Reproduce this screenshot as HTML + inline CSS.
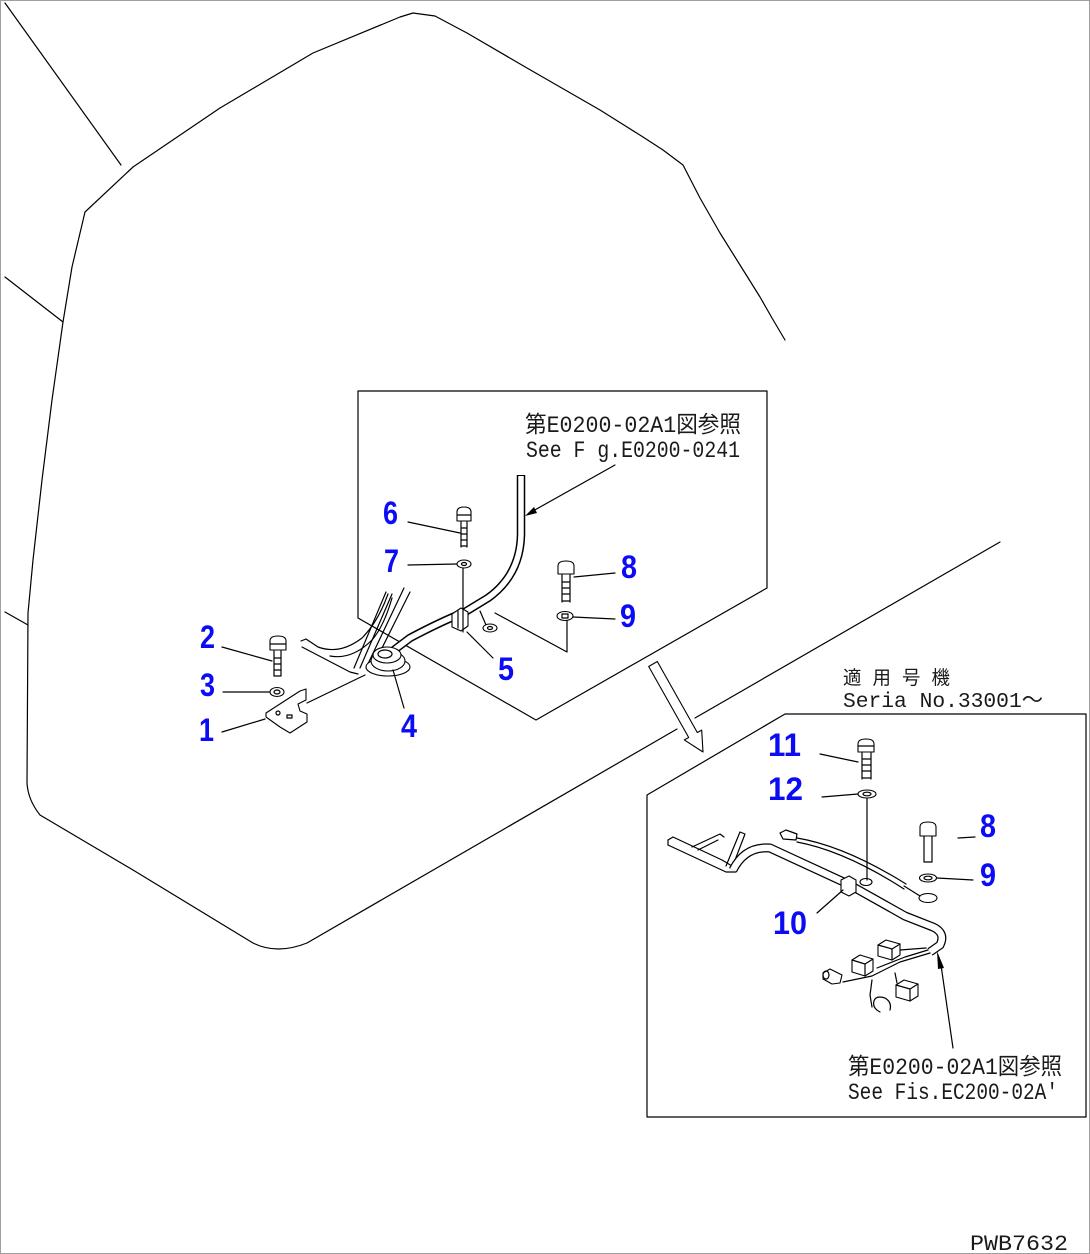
<!DOCTYPE html>
<html><head><meta charset="utf-8"><style>
html,body{margin:0;padding:0;background:#fff;}
svg{display:block;}
.l{fill:none;stroke:#000;stroke-width:1.2;stroke-linejoin:round;stroke-linecap:round;}
.w{fill:#fff;stroke:#000;stroke-width:1.1;stroke-linejoin:round;}
.t{font-family:"Liberation Mono","Noto Sans CJK JP",monospace;fill:#1a1a1a;}
.n{font-family:"Liberation Sans",sans-serif;font-weight:bold;font-size:32px;fill:#0b0bf5;}
</style></head><body>
<svg width="1090" height="1254" viewBox="0 0 1090 1254" xmlns="http://www.w3.org/2000/svg">
<rect x="0.5" y="0.5" width="1089" height="1253" fill="#fff" stroke="#a0a0a0" stroke-width="1"/>

<!-- big outline -->
<path class="l" d="M785 340 L772 318 L760 297 L740 265 L720 233 L700 198 L683 165 L663 150 L643 137 L600 110 L527 68 L467 33 L435 16 L413 13 L400 17 L313 53 L220 108 L133 167 L85 212 L72 267 L63 322 L52 400 L42 480 L33 560 L28 613 L27 783 Q28 800 40 815 L133 870 L253 943 Q277 955 307 943 L677 729"/>
<path class="l" d="M695 718 L1000 542"/>
<path class="l" d="M5 3 L121 165"/>
<path class="l" d="M5 277 L63 322"/>
<path class="l" d="M5 612 L28 625"/>

<!-- upper detail box -->
<path class="l" d="M358 618 L358 391 L767 391 L767 588 L536 720 L358 618"/>

<!-- hollow arrow -->
<polygon class="w" points="648.7,666.5 657.3,661.5 697.3,732.5 701.7,730.1 703,752 684.3,739.9 688.7,737.5"/>

<!-- lower detail box -->
<path class="l" d="M647 1117 L647 795 L785 714 L1086 714 L1086 1117 Z"/>

<!-- upper texts -->
<text class="t" x="525" y="432" font-size="23" textLength="216" lengthAdjust="spacingAndGlyphs">第E0200-02A1図参照</text>
<text class="t" x="526" y="457" font-size="23" textLength="214" lengthAdjust="spacingAndGlyphs">See F g.E0200-0241</text>

<!-- leader arrow upper -->
<path class="l" d="M615 465 L533 511"/>
<polygon points="525,516 537,513 534,507" fill="#000"/>

<!-- cable upper -->
<path d="M521 475 L521 535 Q520 575 488 598 L465 612 Q440 622 410 638 L394 650" fill="none" stroke="#000" stroke-width="8.5"/>
<path d="M521 476 L521 535 Q520 575 488 598 L465 612 Q440 622 410 638 L394 650" fill="none" stroke="#fff" stroke-width="5.5"/>

<!-- bracket upper -->
<path class="l" d="M301 641 L306 639 L318 647 Q340 655 362 638 Q378 622 388 594"/>
<path class="l" d="M302 647 L350 672 L358 674"/>
<path class="l" d="M330 656 Q352 660 372 640 Q384 626 392 598"/>
<path class="l" d="M386 592 L354 668"/>
<path class="l" d="M392 594 L360 668"/>
<path class="l" d="M404 588 L366 668"/>
<path class="l" d="M410 592 L372 668"/>

<!-- grommet 4 -->
<ellipse class="w" cx="388" cy="667" rx="22" ry="9"/>
<ellipse class="w" cx="388" cy="661" rx="17" ry="10"/>
<ellipse class="w" cx="387" cy="655" rx="14" ry="8"/>
<ellipse class="l" cx="385" cy="654" rx="7" ry="4"/>

<!-- plate to grommet line -->
<path class="l" d="M307 703 L365 675"/>

<!-- clamp 5 -->
<path class="w" d="M452 614 L461 608 L468 612 L468 626 L461 631 L452 627 Z"/>
<path class="l" d="M458 611 L458 628"/>
<path class="l" d="M480 611 L486 625"/>
<ellipse class="w" cx="490" cy="628" rx="7" ry="4"/>
<ellipse class="l" cx="490" cy="628" rx="2.5" ry="1.5"/>
<path class="l" d="M495 613 L567 652 L567 620"/>
<path class="l" d="M463 568 L463 632"/>
<path class="l" d="M467 632 L493 658"/>

<!-- bolt 6 -->
<path class="w" d="M457 521 L457 512 Q457 507 464 507 Q471 507 471 512 L471 521 Z"/>
<path class="l" d="M457 515 L471 515"/>
<path class="l" d="M461 522 L461 547 M467 522 L467 547 M461 528 L467 528 M461 534 L467 534 M461 540 L467 540 M461 546 L467 546"/>
<!-- washer 7 -->
<ellipse class="w" cx="464" cy="564" rx="7" ry="4"/>
<ellipse class="l" cx="464" cy="564" rx="2.5" ry="1.5"/>

<!-- bolt 8 upper -->
<path class="w" d="M558 574 L558 566 Q558 561 566 561 Q574 561 574 566 L574 574 Z"/>
<path class="l" d="M562 575 L562 602 M570 575 L570 602 M562 582 L570 582 M562 588 L570 588 M562 594 L570 594 M562 601 L570 601"/>
<!-- washer 9 upper -->
<ellipse class="w" cx="565" cy="616" rx="8" ry="4.5"/>
<rect class="l" x="562" y="614" width="6" height="4"/>

<!-- bolt 2 -->
<path class="w" d="M270 650 L270 641 Q270 636 278 636 Q286 636 286 641 L286 650 Z"/>
<path class="l" d="M270 644 L286 644"/>
<path class="l" d="M274 651 L274 676 M281 651 L281 676 M274 658 L281 658 M274 664 L281 664 M274 670 L281 670 M274 676 L281 676"/>
<!-- washer 3 -->
<ellipse class="w" cx="277" cy="692" rx="7" ry="4.5"/>
<ellipse class="l" cx="277" cy="692" rx="3" ry="2"/>
<!-- plate 1 -->
<path class="w" d="M266 713 L300 691 L306 689 L306 700 L298 704 L300 711 L307 714 L307 722 L290 733 L280 727 L266 717 Z"/>
<circle class="l" cx="278" cy="713" r="2"/>
<rect class="l" x="287" y="715" width="5" height="3"/>

<!-- upper leaders -->
<path class="l" d="M408 522 L460 533"/>
<path class="l" d="M408 565 L457 564"/>
<path class="l" d="M574 577 L615 573"/>
<path class="l" d="M573 617 L615 619"/>
<path class="l" d="M222 647 L272 661"/>
<path class="l" d="M223 692 L270 692"/>
<path class="l" d="M222 732 L265 719"/>
<path class="l" d="M393 670 L404 708"/>

<!-- upper labels -->
<text class="n" x="383" y="524" textLength="15" lengthAdjust="spacingAndGlyphs">6</text>
<text class="n" x="384" y="572" textLength="15" lengthAdjust="spacingAndGlyphs">7</text>
<text class="n" x="621" y="578" textLength="16" lengthAdjust="spacingAndGlyphs">8</text>
<text class="n" x="620" y="627" textLength="16" lengthAdjust="spacingAndGlyphs">9</text>
<text class="n" x="498" y="680" textLength="16" lengthAdjust="spacingAndGlyphs">5</text>
<text class="n" x="200" y="648" textLength="15" lengthAdjust="spacingAndGlyphs">2</text>
<text class="n" x="200" y="696" textLength="15" lengthAdjust="spacingAndGlyphs">3</text>
<text class="n" x="199" y="741" textLength="15" lengthAdjust="spacingAndGlyphs">1</text>
<text class="n" x="401" y="737" textLength="16" lengthAdjust="spacingAndGlyphs">4</text>

<!-- lower texts -->
<text class="t" x="843" y="684" font-size="19" textLength="107" lengthAdjust="spacingAndGlyphs">適 用 号 機</text>
<text class="t" x="843" y="707" font-size="21" textLength="200" lengthAdjust="spacingAndGlyphs">Seria  No.33001〜</text>
<text class="t" x="848" y="1074" font-size="23" textLength="214" lengthAdjust="spacingAndGlyphs">第E0200-02A1図参照</text>
<text class="t" x="848" y="1099" font-size="23" textLength="210" lengthAdjust="spacingAndGlyphs">See Fis.EC200-02A'</text>
<text class="t" x="970" y="1250" font-size="22" textLength="98" lengthAdjust="spacingAndGlyphs">PWB7632</text>

<!-- lower bracket -->
<path class="l" d="M668 840 L673 837 L722 860 L732 866"/>
<path class="l" d="M668 845 L726 872 L736 872"/>
<path class="l" d="M668 840 L668 845"/>
<path class="l" d="M692 847 L720 834 L724 837 M698 850 L718 840"/>
<path class="l" d="M726 866 L740 832 L745 834 L732 868"/>

<!-- lower tube -->
<path d="M733 870 Q745 846 770 848 L848 884 L905 916 L933 927 Q946 933 940 945 L930 952" fill="none" stroke="#000" stroke-width="9"/>
<path d="M733 870 Q745 846 770 848 L848 884 L905 916 L933 927 Q946 933 940 945 L930 952" fill="none" stroke="#fff" stroke-width="6.5"/>

<!-- thin cable -->
<path class="l" d="M780 833 L786 830 L797 834 L796 840 L783 839 Z"/>
<path class="l" d="M797 838 Q845 846 906 884"/>
<path class="l" d="M797 842 Q845 851 904 889"/>
<ellipse class="w" cx="928" cy="898" rx="9" ry="4.5"/>
<path class="l" d="M904 886 L920 896"/>

<!-- clamp 10 -->
<path class="w" d="M841 880 L849 876 L856 880 L856 892 L849 896 L841 892 Z"/>
<ellipse class="w" cx="866" cy="882" rx="6" ry="3.5"/>
<path class="l" d="M867 798 L867 880"/>

<!-- wires to connectors -->
<path class="l" d="M928 950 L905 957 L877 968"/>
<path class="l" d="M930 953 L900 962 L872 976 L843 982"/>
<path class="l" d="M926 948 L900 950"/>
<path class="l" d="M895 973 L897 983"/>
<path class="l" d="M872 980 L870 995 L872 1007"/>

<!-- connectors -->
<path class="w" d="M878 945 L886 940 L900 944 L900 955 L892 960 L878 956 Z"/>
<path class="l" d="M878 945 L892 949 L900 944 M892 949 L892 960"/>
<path class="w" d="M852 960 L860 955 L873 959 L873 971 L865 976 L852 972 Z"/>
<path class="l" d="M852 960 L865 964 L873 959 M865 964 L865 976"/>
<path class="w" d="M896 985 L904 980 L918 984 L918 996 L910 1001 L896 997 Z"/>
<path class="l" d="M896 985 L910 989 L918 984 M910 989 L910 1001"/>
<path class="w" d="M823 973 L830 969 L842 975 L840 983 L832 984 L823 979 Z"/>
<ellipse class="l" cx="826" cy="975" rx="3" ry="4"/>
<path class="l" d="M874 1001 Q876 995 885 998 Q892 1002 890 1010 M874 1001 Q872 1008 880 1012"/>

<!-- lower leader arrow -->
<path class="l" d="M953 1048 L941 965"/>
<polygon points="937,951 944,968 938,969" fill="#000"/>

<!-- lower bolts -->
<path class="w" d="M858 752 L858 744 Q858 739 866 739 Q874 739 874 744 L874 752 Z"/>
<path class="l" d="M858 746 L874 746"/>
<path class="l" d="M862 753 L862 779 M871 753 L871 779 M862 759 L871 759 M862 765 L871 765 M862 771 L871 771 M862 778 L871 778"/>
<ellipse class="w" cx="867" cy="794" rx="9" ry="4"/>
<ellipse class="l" cx="867" cy="794" rx="4" ry="1.8"/>

<path class="w" d="M920 836 L920 827 Q920 822 928 822 Q936 822 936 827 L936 836 Z"/>
<path class="l" d="M924 836 L924 862 M932 836 L932 862 M924 862 L932 862"/>
<ellipse class="w" cx="928" cy="878" rx="8.5" ry="4"/>
<ellipse class="l" cx="928" cy="878" rx="4" ry="1.8"/>

<!-- lower leaders -->
<path class="l" d="M820 754 L858 762"/>
<path class="l" d="M822 797 L858 794"/>
<path class="l" d="M958 838 L975 837"/>
<path class="l" d="M937 878 L973 880"/>
<path class="l" d="M817 913 L843 890"/>

<!-- lower labels -->
<text class="n" x="768" y="756" textLength="33" lengthAdjust="spacingAndGlyphs">11</text>
<text class="n" x="768" y="800" textLength="35" lengthAdjust="spacingAndGlyphs">12</text>
<text class="n" x="980" y="837" textLength="16" lengthAdjust="spacingAndGlyphs">8</text>
<text class="n" x="980" y="886" textLength="16" lengthAdjust="spacingAndGlyphs">9</text>
<text class="n" x="773" y="934" textLength="34" lengthAdjust="spacingAndGlyphs">10</text>
</svg>
</body></html>
